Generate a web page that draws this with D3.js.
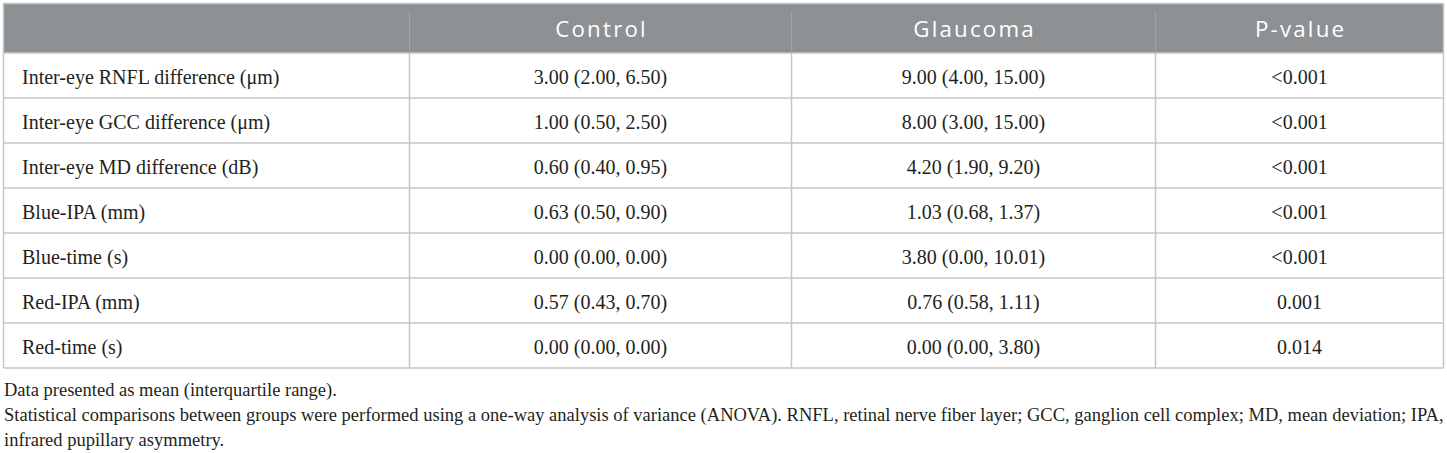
<!DOCTYPE html>
<html>
<head>
<meta charset="utf-8">
<script src="https://cdn.jsdelivr.net/npm/d3@7/dist/d3.min.js"></script>
<style>
  html, body { margin: 0; padding: 0; background: #ffffff; }
  svg { display: block; }
</style>
</head>
<body>
<svg id="chart" width="1447" height="453"></svg>
<script>
const columnHeaders = ["", "Control", "Glaucoma", "P-value"];
const rowLabels = [
  "Inter-eye RNFL difference (\u03bcm)",
  "Inter-eye GCC difference (\u03bcm)",
  "Inter-eye MD difference (dB)",
  "Blue-IPA (mm)",
  "Blue-time (s)",
  "Red-IPA (mm)",
  "Red-time (s)"
];
const controlValues = [
  "3.00 (2.00, 6.50)",
  "1.00 (0.50, 2.50)",
  "0.60 (0.40, 0.95)",
  "0.63 (0.50, 0.90)",
  "0.00 (0.00, 0.00)",
  "0.57 (0.43, 0.70)",
  "0.00 (0.00, 0.00)"
];
const glaucomaValues = [
  "9.00 (4.00, 15.00)",
  "8.00 (3.00, 15.00)",
  "4.20 (1.90, 9.20)",
  "1.03 (0.68, 1.37)",
  "3.80 (0.00, 10.01)",
  "0.76 (0.58, 1.11)",
  "0.00 (0.00, 3.80)"
];
const pValues = ["<0.001", "<0.001", "<0.001", "<0.001", "<0.001", "0.001", "0.014"];
const notes = [
  "Data presented as mean (interquartile range).",
  "Statistical comparisons between groups were performed using a one-way analysis of variance (ANOVA). RNFL, retinal nerve fiber layer; GCC, ganglion cell complex; MD, mean deviation; IPA,",
  "infrared pupillary asymmetry."
];

const svg = d3.select("#chart");
const colEdges = [3.5, 409.5, 791.5, 1155.5, 1443.5];
const tableTop = 3.5, headerH = 49.5, rowH = 45;
const nRows = rowLabels.length;
const tableBottom = tableTop + headerH + nRows * rowH;

const rows = rowLabels.map((lab, i) => [lab, controlValues[i], glaucomaValues[i], pValues[i]]);

const y = d3.scaleBand().domain(d3.range(nRows)).range([tableTop + headerH, tableBottom]).paddingInner(0).paddingOuter(0);

const lineColor = "#c4c6c7";
const headerFill = "#8d9193";

// header
svg.append("rect")
  .attr("x", colEdges[0]).attr("y", tableTop)
  .attr("width", colEdges[4] - colEdges[0]).attr("height", headerH)
  .attr("fill", headerFill);

// horizontal lines
svg.selectAll("line.h").data(d3.range(nRows + 1)).enter().append("line")
  .attr("class", "h")
  .attr("x1", colEdges[0]).attr("x2", colEdges[4])
  .attr("y1", d => y(0) + d * y.bandwidth())
  .attr("y2", d => y(0) + d * y.bandwidth())
  .attr("stroke", lineColor).attr("stroke-width", 1.5);

// vertical lines (body)
svg.selectAll("line.v").data(colEdges).enter().append("line")
  .attr("class", "v")
  .attr("x1", d => d).attr("x2", d => d)
  .attr("y1", (d, i) => (i === 0 || i === 4) ? tableTop : tableTop + headerH)
  .attr("y2", tableBottom)
  .attr("stroke", lineColor).attr("stroke-width", 1.5);

// vertical lines (header, subtle)
svg.selectAll("line.vh").data(colEdges.slice(1, 4)).enter().append("line")
  .attr("x1", d => d).attr("x2", d => d)
  .attr("y1", tableTop + 7).attr("y2", tableTop + headerH)
  .attr("stroke", "#a0a3a5").attr("stroke-width", 1.2);

// top border
svg.append("line")
  .attr("x1", colEdges[0]).attr("x2", colEdges[4])
  .attr("y1", tableTop).attr("y2", tableTop)
  .attr("stroke", lineColor).attr("stroke-width", 1.5);

// header text
const hdrLS = 2.2;
svg.selectAll("text.hdr").data(columnHeaders).enter().append("text")
  .attr("class", "hdr")
  .attr("x", (d, i) => (colEdges[i] + colEdges[i + 1]) / 2 + hdrLS / 2)
  .attr("y", 36.5)
  .attr("text-anchor", "middle")
  .attr("font-family", "'Open Sans', sans-serif")
  .attr("font-size", 22.3)
  .attr("letter-spacing", hdrLS)
  .attr("fill", "#ffffff")
  .text(d => d);

// body text
const bodyFont = "'Liberation Serif', 'Times New Roman', serif";
const g = svg.selectAll("g.row").data(rows).enter().append("g")
  .attr("transform", (d, i) => `translate(0,${y(i) + y.bandwidth() / 2 + 8.5})`);

g.selectAll("text").data(d => d).enter().append("text")
  .attr("x", (d, i) => i === 0 ? 22 : (colEdges[i] + colEdges[i + 1]) / 2)
  .attr("text-anchor", (d, i) => i === 0 ? "start" : "middle")
  .attr("font-family", bodyFont)
  .attr("font-size", 20)
  .attr("fill", "#231f20")
  .text(d => d);

// notes
svg.selectAll("text.note").data(notes).enter().append("text")
  .attr("class", "note")
  .attr("x", 4)
  .attr("y", (d, i) => 396 + i * 25)
  .attr("font-family", bodyFont)
  .attr("font-size", 18.5)
  .attr("fill", "#231f20")
  .text(d => d);
</script>
</body>
</html>
